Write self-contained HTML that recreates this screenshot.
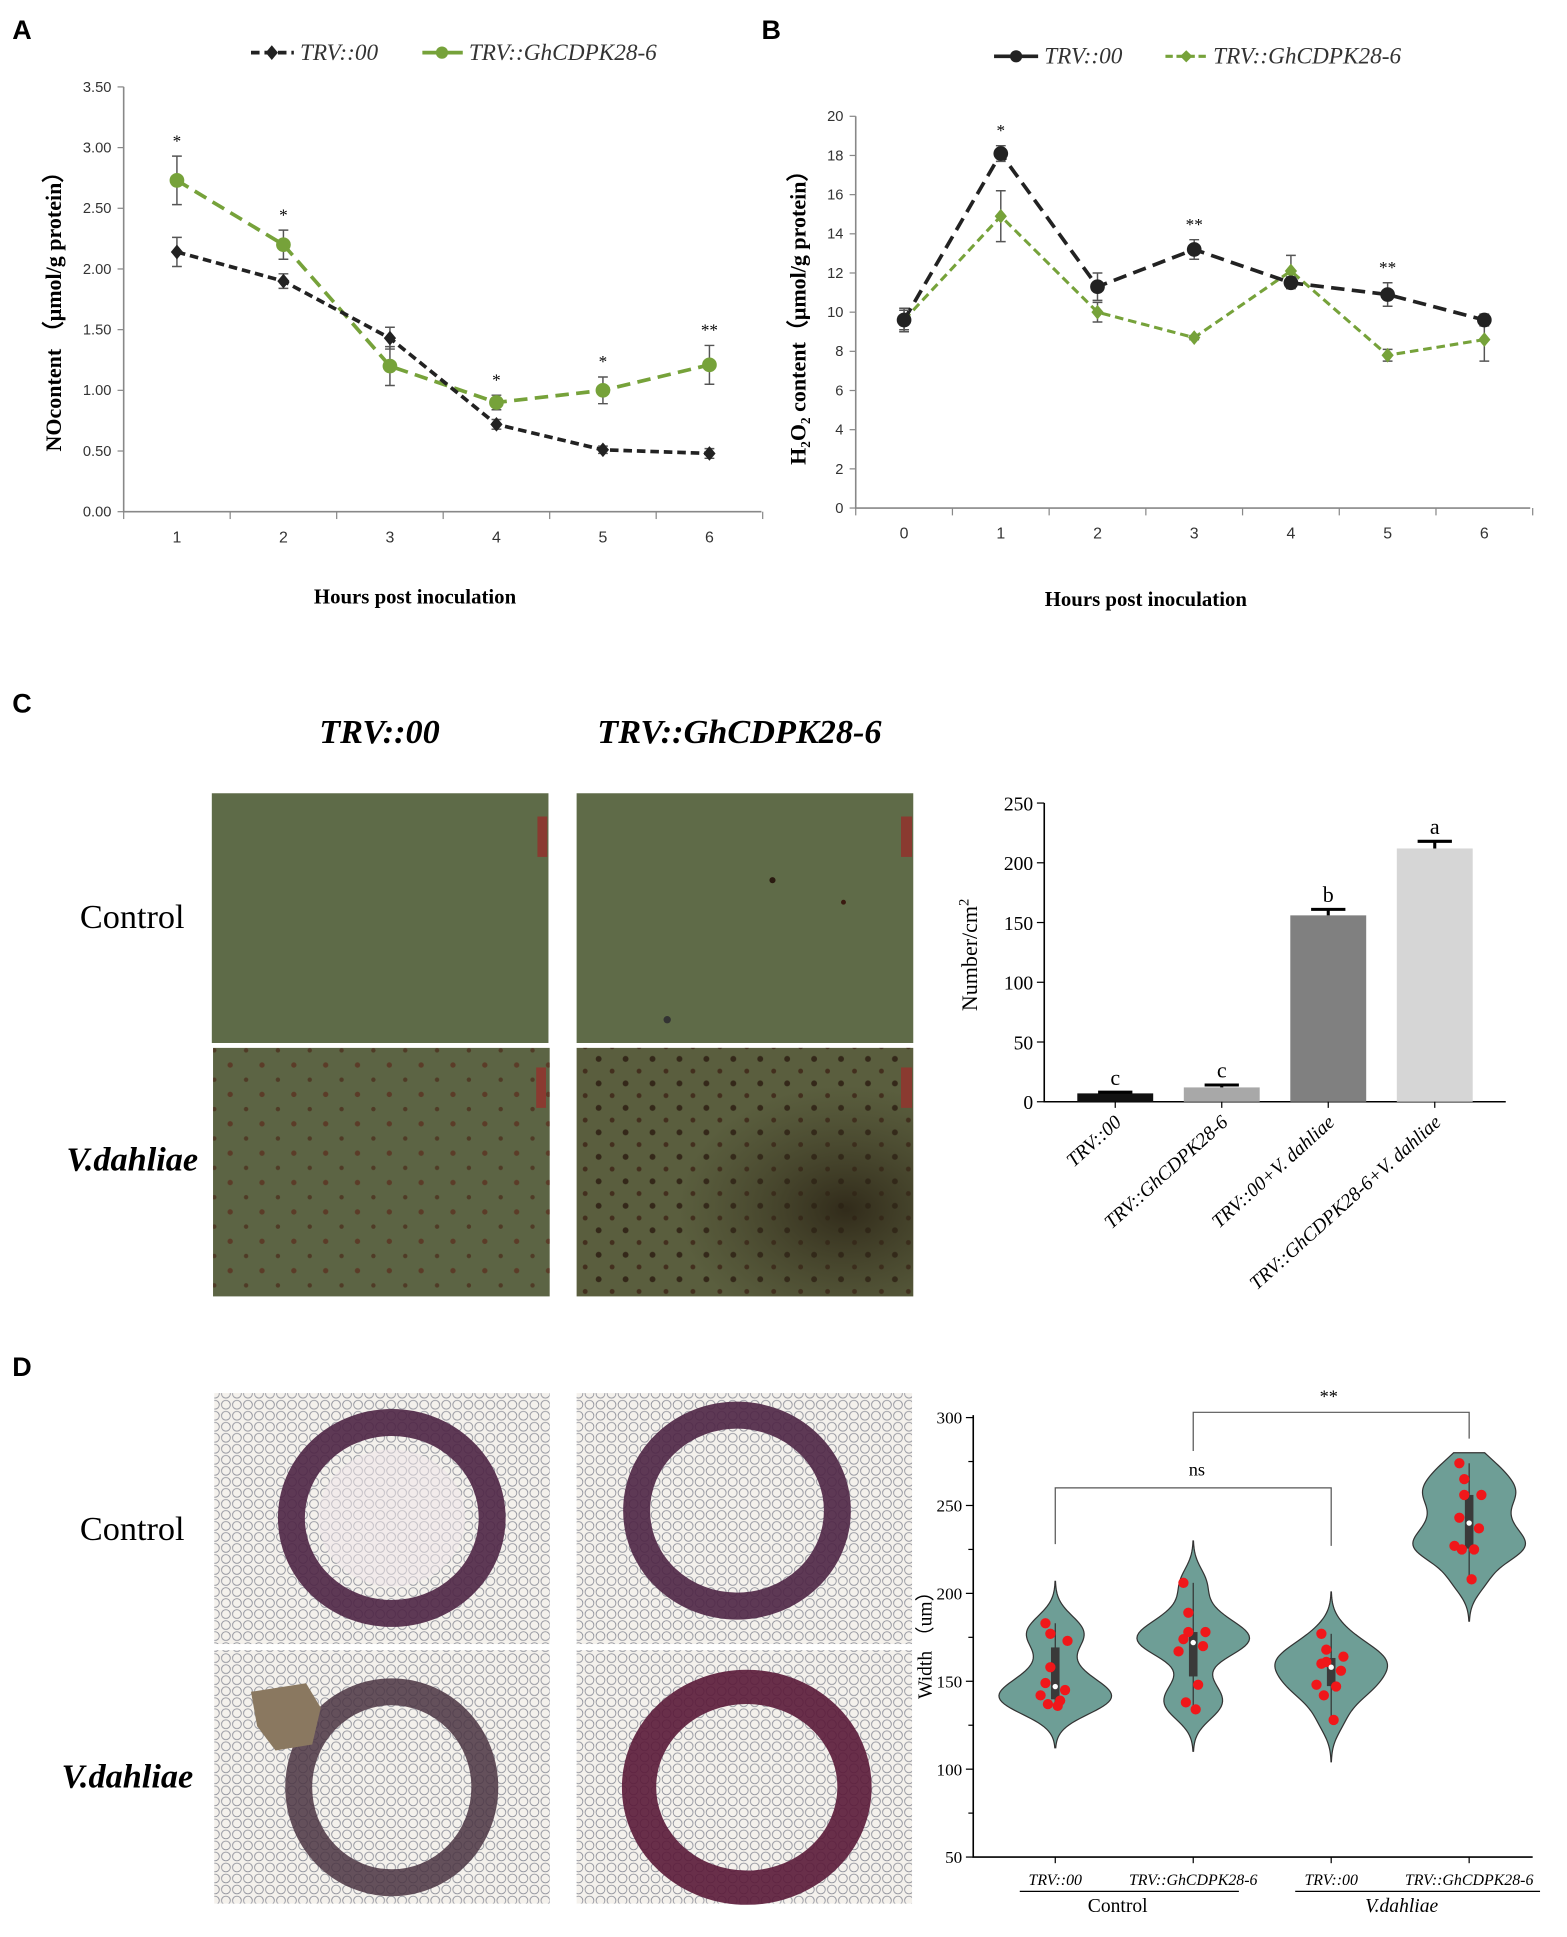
<!DOCTYPE html>
<html><head><meta charset="utf-8"><style>
html,body{margin:0;padding:0;background:#fff;}
svg{display:block;}
text{font-family:"Liberation Serif",serif;}
.sans{font-family:"Liberation Sans",sans-serif;}
</style></head><body>
<svg id="fig" width="1567" height="1937" viewBox="0 0 1280 1582.3" xmlns="http://www.w3.org/2000/svg">
<defs>
<pattern id="cells" width="9" height="9" patternUnits="userSpaceOnUse">
<rect width="9" height="9" fill="#f4f1ec"/>
<circle cx="4.5" cy="4.5" r="3.6" fill="none" stroke="#8e909a" stroke-width="0.7"/>
</pattern>
<pattern id="spots" width="26" height="24" patternUnits="userSpaceOnUse">
<circle cx="6" cy="6" r="2.2" fill="#5a2e1e" opacity="0.75"/>
<circle cx="19" cy="18" r="1.8" fill="#4a2a1a" opacity="0.7"/>
</pattern>
<pattern id="spots2" width="22" height="20" patternUnits="userSpaceOnUse">
<circle cx="5" cy="5" r="2.4" fill="#2a1a10" opacity="0.8"/>
<circle cx="16" cy="15" r="2" fill="#3a1e12" opacity="0.75"/>
</pattern>
<radialGradient id="dark" cx="0.8" cy="0.65" r="0.5"><stop offset="0" stop-color="#2a2214" stop-opacity="0.85"/><stop offset="1" stop-color="#3a3420" stop-opacity="0"/></radialGradient>
</defs>

<text class="sans" x="10" y="32" font-size="22" font-weight="bold">A</text>
<text class="sans" x="622" y="32" font-size="22" font-weight="bold">B</text>
<text class="sans" x="10" y="582" font-size="22" font-weight="bold">C</text>
<text class="sans" x="10" y="1124" font-size="22" font-weight="bold">D</text>

<text x="310" y="607" font-size="28" font-style="italic" font-weight="bold" text-anchor="middle">TRV::00</text>
<text x="604" y="607" font-size="28" font-style="italic" font-weight="bold" text-anchor="middle">TRV::GhCDPK28-6</text>
<text x="108" y="758" font-size="28" text-anchor="middle">Control</text>
<text x="108" y="956" font-size="28" font-style="italic" font-weight="bold" text-anchor="middle">V.dahliae</text>
<g>
<rect x="173" y="648" width="275" height="204" fill="#5e6b48"/>
<rect x="439" y="667" width="8" height="33" fill="#8a3a30"/>
</g>
<g>
<rect x="471" y="648" width="275" height="204" fill="#5f6b48"/>
<rect x="736" y="667" width="9" height="33" fill="#8a3a30"/>
<circle cx="631" cy="719" r="2.5" fill="#2a1a10"/><circle cx="689" cy="737" r="2" fill="#3a1a10"/><circle cx="545" cy="833" r="3" fill="#333"/>
</g>
<g>
<rect x="174" y="856" width="275" height="203" fill="#5c6444"/>
<rect x="174" y="856" width="275" height="203" fill="url(#spots)"/>
<rect x="438" y="872" width="8" height="33" fill="#8a3a30"/>
</g>
<g>
<rect x="471" y="856" width="275" height="203" fill="#5a5e3e"/>
<rect x="471" y="856" width="275" height="203" fill="url(#spots2)"/>
<rect x="471" y="856" width="275" height="203" fill="url(#dark)"/>
<rect x="736" y="872" width="9" height="33" fill="#8a3a30"/>
</g>

<text x="108" y="1258" font-size="28" text-anchor="middle">Control</text>
<text x="104" y="1460" font-size="28" font-style="italic" font-weight="bold" text-anchor="middle">V.dahliae</text>
<g>
<rect x="175" y="1138" width="274" height="205" fill="url(#cells)"/>
<ellipse cx="320" cy="1240" rx="82" ry="78" fill="none" stroke="#4e2545" stroke-width="22" opacity="0.9"/>
<ellipse cx="320" cy="1240" rx="60" ry="56" fill="#f0e6ea" opacity="0.5"/>
</g>
<g>
<rect x="471" y="1138" width="274" height="205" fill="url(#cells)"/>
<ellipse cx="602" cy="1234" rx="82" ry="78" fill="none" stroke="#4e2545" stroke-width="22" opacity="0.9"/>
</g>
<g>
<rect x="175" y="1348" width="274" height="207" fill="url(#cells)"/>
<ellipse cx="320" cy="1460" rx="76" ry="78" fill="none" stroke="#4a3442" stroke-width="22" opacity="0.85"/>
<path d="M205 1382 L250 1375 L262 1395 L255 1425 L225 1430 L210 1410 Z" fill="#8a7860"/>
</g>
<g>
<rect x="471" y="1348" width="274" height="207" fill="url(#cells)"/>
<ellipse cx="610" cy="1460" rx="88" ry="82" fill="none" stroke="#5a1a38" stroke-width="28" opacity="0.9"/>
</g>

<g id="gA"></g>
<g id="gB"></g>
<g id="gC"></g>
<g id="gD"></g>
</svg>
<script>
const NS='http://www.w3.org/2000/svg';
function mk(tag,attrs,parent){const e=document.createElementNS(NS,tag);for(const k in attrs)e.setAttribute(k,attrs[k]);parent.appendChild(e);return e;}

// ---------- Panel A data ----------
const aCats=[1,2,3,4,5,6];
const aBlack=[2.14,1.90,1.43,0.72,0.51,0.48];
const aBlackErr=[0.12,0.06,0.09,0.04,0.03,0.04];
const aGreen=[2.73,2.20,1.20,0.90,1.00,1.21];
const aGreenErr=[0.20,0.12,0.16,0.06,0.11,0.16];
const aStars=['*','*','','*','*','**'];
const aTicks=[0,0.5,1,1.5,2,2.5,3,3.5];
// ---------- Panel B data ----------
const bCats=[0,1,2,3,4,5,6];
const bBlack=[9.6,18.1,11.3,13.2,11.5,10.9,9.6];
const bBlackErr=[0.5,0.4,0.7,0.5,0.3,0.6,0.3];
const bGreen=[9.6,14.9,10.0,8.7,12.1,7.8,8.6];
const bGreenErr=[0.6,1.3,0.5,0.1,0.8,0.3,1.1];
const bStars=['','*','','**','','**',''];
const bTicks=[0,2,4,6,8,10,12,14,16,18,20];
// ---------- Panel C data ----------
const cCats=['TRV::00','TRV::GhCDPK28-6','TRV::00+V. dahliae','TRV::GhCDPK28-6+V. dahliae'];
const cVals=[7,12,156,212];
const cErrs=[1,2,5,6];
const cLetters=['c','c','b','a'];
const cTicks=[0,50,100,150,200,250];
// ---------- Panel D data ----------
const dCats=['TRV::00','TRV::GhCDPK28-6','TRV::00','TRV::GhCDPK28-6'];
const dV1=[183,177,173,158,149,145,142,139,137,136];
const dV2=[206,189,178,178,174,170,167,148,138,134];
const dV3=[177,168,164,161,160,156,148,147,142,128];
const dV4=[274,265,256,256,243,237,227,225,225,208];
const dTicks=[50,100,150,200,250,300];

function lineChart(g,opt){
  const {x0,x1,yTop,yBot,ymax,cats,step,ticks,fmt,black,bErr,green,gErr,stars,blackMarker,greenMarker}=opt;
  const ys=v=>yBot-(v/ymax)*(yBot-yTop);
  const xs=i=>x0+step*(i+0.5);
  const ax=mk('path',{d:`M${x0} ${yTop} V${yBot} H${x1}`,stroke:'#888',fill:'none','stroke-width':1.3},g);
  
  
  ticks.forEach(t=>{
    const tk=mk('line',{x1:x0-5,x2:x0,y1:ys(t),y2:ys(t),stroke:'#888'},g);
    
    
    const tl=mk('text',{x:x0-10,y:ys(t)+4,'font-size':12,'text-anchor':'end',fill:'#333',class:'sans'},g);
    
    
    tl.textContent=fmt(t);
  });
  for(let i=0;i<=cats.length;i++){
    const tk=mk('line',{x1:x0+step*i,x2:x0+step*i,y1:yBot,y2:yBot+6,stroke:'#888'},g);
    
    
  }
  cats.forEach((c,i)=>{
    const tl=mk('text',{x:xs(i),y:yBot+25,'font-size':13,'text-anchor':'middle',fill:'#333',class:'sans'},g);
    
    
    tl.textContent=c;
  });
  function series(vals,errs,color,marker,name,width,dash){
    const pl=mk('polyline',{points:vals.map((v,i)=>xs(i)+','+ys(v)).join(' '),fill:'none',stroke:color,'stroke-width':width,'stroke-dasharray':dash},g);
    
    
    vals.forEach((v,i)=>{
      const x=xs(i),y1=ys(v+errs[i]),y2=ys(v-errs[i]);
      const eb=mk('path',{d:`M${x} ${y1}V${y2}M${x-4} ${y1}H${x+4}M${x-4} ${y2}H${x+4}`,stroke:'#555','stroke-width':1.2,fill:'none'},g);
      
      
      let m;
      if(marker==='diamond') m=mk('path',{d:`M${x} ${ys(v)-6}L${x+5} ${ys(v)}L${x} ${ys(v)+6}L${x-5} ${ys(v)}Z`,fill:color},g);
      else m=mk('circle',{cx:x,cy:ys(v),r:marker==='bigcircle'?6:5,fill:color},g);
      
      
    });
  }
  series(green,gErr,'#76a23a',greenMarker,'green-series',opt.greenW?opt.greenW:3,opt.greenDash);
  series(black,bErr,'#222',blackMarker,'black-series',3,opt.blackDash);
  stars.forEach((s,i)=>{
    if(!s)return;
    const top=Math.max(black[i]+bErr[i],green[i]+gErr[i]);
    const st=mk('text',{x:xs(i),y:ys(top)-8,'font-size':14,'text-anchor':'middle'},g);
    
    
    st.textContent=s;
  });
}

const gA=document.getElementById('gA');
lineChart(gA,{x0:101,x1:622,yTop:71,yBot:418,ymax:3.5,cats:aCats,step:87,ticks:aTicks,fmt:t=>t.toFixed(2),
  black:aBlack,bErr:aBlackErr,green:aGreen,gErr:aGreenErr,stars:aStars,blackMarker:'diamond',greenMarker:'bigcircle',blackDash:'7 4',greenDash:'11 6'});
{
const l1=mk('path',{d:'M205 43H240',stroke:'#222','stroke-width':3,'stroke-dasharray':'7 4'},gA);


const d1=mk('path',{d:'M222 37L227 43L222 49L217 43Z',fill:'#222'},gA);


const t1=mk('text',{x:245,y:49,'font-size':19,'font-style':'italic',fill:'#333'},gA);


t1.textContent='TRV::00';
const l2=mk('path',{d:'M345 43H378',stroke:'#76a23a','stroke-width':3},gA);


const c2=mk('circle',{cx:361,cy:43,r:5,fill:'#76a23a'},gA);


const t2=mk('text',{x:383,y:49,'font-size':19,'font-style':'italic',fill:'#333'},gA);


t2.textContent='TRV::GhCDPK28-6';
const yl=mk('text',{x:0,y:0,'font-size':18,'font-weight':'bold','text-anchor':'middle',transform:'translate(50,250) rotate(-90)'},gA);


yl.textContent='NOcontent （μmol/g protein）';
const xl=mk('text',{x:339,y:493,'font-size':17,'font-weight':'bold','text-anchor':'middle'},gA);


xl.textContent='Hours post inoculation';
}

const gB=document.getElementById('gB');
lineChart(gB,{x0:699,x1:1250,yTop:95,yBot:415,ymax:20,cats:bCats,step:79,ticks:bTicks,fmt:t=>String(t),
  black:bBlack,bErr:bBlackErr,green:bGreen,gErr:bGreenErr,stars:bStars,blackMarker:'bigcircle',greenMarker:'diamond',blackDash:'11 6',greenDash:'7 4',greenW:2.5});
{
const l1=mk('path',{d:'M812 46H848',stroke:'#222','stroke-width':3},gB);


const c1=mk('circle',{cx:830,cy:46,r:5,fill:'#222'},gB);


const t1=mk('text',{x:853,y:52,'font-size':19,'font-style':'italic',fill:'#333'},gB);


t1.textContent='TRV::00';
const l2=mk('path',{d:'M952 46H986',stroke:'#76a23a','stroke-width':2.5,'stroke-dasharray':'6 3'},gB);


const d2=mk('path',{d:'M969 41L974 46L969 51L964 46Z',fill:'#76a23a'},gB);


const t2=mk('text',{x:991,y:52,'font-size':19,'font-style':'italic',fill:'#333'},gB);


t2.textContent='TRV::GhCDPK28-6';
const yl=mk('text',{x:0,y:0,'font-size':18,'font-weight':'bold','text-anchor':'middle',transform:'translate(658,255) rotate(-90)'},gB);


yl.textContent='H₂O₂ content（μmol/g protein）';
const xl=mk('text',{x:936,y:495,'font-size':17,'font-weight':'bold','text-anchor':'middle'},gB);


xl.textContent='Hours post inoculation';
}

{
const g=document.getElementById('gC');
const x0=853,x1=1230,yTop=656,yBot=900,ymax=250,step=87,bw=62;
const ys=v=>yBot-v/ymax*(yBot-yTop);
const xs=i=>x0+58+step*i;
const colors=['#111','#a8a8a8','#808080','#d6d6d6'];
const ax=mk('path',{d:`M${x0} ${yTop}V${yBot}H${x1}`,stroke:'#000','stroke-width':1.3,fill:'none'},g);


cTicks.forEach(t=>{
  const tk=mk('line',{x1:x0-6,x2:x0,y1:ys(t),y2:ys(t),stroke:'#000'},g);
  
  
  const tl=mk('text',{x:x0-9,y:ys(t)+6,'font-size':16,'text-anchor':'end'},g);
  
  
  tl.textContent=t;
});
cVals.forEach((v,i)=>{
  const x=xs(i);
  const r=mk('rect',{x:x-bw/2,y:ys(v),width:bw,height:yBot-ys(v),fill:colors[i]},g);
  
  
  const e=mk('path',{d:`M${x} ${ys(v)}V${ys(v+cErrs[i])}M${x-14} ${ys(v+cErrs[i])}H${x+14}`,stroke:'#000','stroke-width':2.5,fill:'none'},g);
  
  
  const l=mk('text',{x:x,y:ys(v+cErrs[i])-6,'font-size':18,'text-anchor':'middle'},g);
  
  
  l.textContent=cLetters[i];
  const xt=mk('line',{x1:x,x2:x,y1:yBot,y2:yBot+5,stroke:'#000'},g);
  
  
  const cl=mk('text',{x:0,y:0,'font-size':16,'font-style':'italic','text-anchor':'end',transform:`translate(${x+6},${yBot+18}) rotate(-42)`},g);
  
  
  cl.textContent=cCats[i];
});
const yl=mk('text',{x:0,y:0,'font-size':18,'text-anchor':'middle',transform:'translate(798,780) rotate(-90)'},g);


yl.innerHTML='Number/cm<tspan dy="-7" font-size="12">2</tspan>';
}

{
const g=document.getElementById('gD');
const groups=[dV1,dV2,dV3,dV4];
const x0=795,x1=1252,yTop=1158,yBot=1517,ymin=50,ymax=300,halfW=46;
const ys=v=>yBot-(v-ymin)/(ymax-ymin)*(yBot-yTop);
const xs=i=>862+112.7*i;
const ax=mk('path',{d:`M${x0} ${yTop-2}V${yBot}H${x1}`,stroke:'#000','stroke-width':1.3,fill:'none'},g);


for(let t=50;t<=300;t+=25){
  const major=dTicks.includes(t);
  const tk=mk('line',{x1:x0-(major?6:4),x2:x0,y1:ys(t),y2:ys(t),stroke:'#000'},g);
  
  
  if(major){
    const tl=mk('text',{x:x0-9,y:ys(t)+5,'font-size':14,'text-anchor':'end'},g);
    
    
    tl.textContent=t;
  }
}
const q=(a,p)=>{const s=[...a].sort((x,y)=>x-y);const k=(s.length-1)*p,f=Math.floor(k);return s[f]+(s[Math.min(f+1,s.length-1)]-s[f])*(k-f);};
groups.forEach((vals,i)=>{
  const cx=xs(i),bw=8.5;
  const lo=Math.min(...vals)-2.8*bw, hi=Math.min(Math.max(...vals)+2.8*bw,280);
  const dens=y=>vals.reduce((s,v)=>s+Math.exp(-0.5*((y-v)/bw)**2),0);
  const pts=[];let mx=0;
  for(let y=lo;y<=hi+0.01;y+=(hi-lo)/80){const d=dens(y);pts.push([y,d]);if(d>mx)mx=d;}
  let dpath='M'+pts.map(p=>`${cx+p[1]/mx*halfW},${ys(p[0])}`).join('L');
  dpath+='L'+pts.slice().reverse().map(p=>`${cx-p[1]/mx*halfW},${ys(p[0])}`).join('L')+'Z';
  const vp=mk('path',{d:dpath,fill:'#6e9e96',stroke:'#333','stroke-width':1},g);
  
  
  const wl=mk('line',{x1:cx,x2:cx,y1:ys(Math.min(...vals)),y2:ys(Math.max(...vals)),stroke:'#333','stroke-width':1},g);
  
  
  const bx=mk('rect',{x:cx-3.5,y:ys(q(vals,0.75)),width:7,height:ys(q(vals,0.25))-ys(q(vals,0.75)),fill:'#3a3a3a'},g);
  
  
  const offs=[-8,-4,10,-4,-8,8,-12,4,-6,2];
  vals.forEach((v,j)=>{
    const c=mk('circle',{cx:cx+offs[j%offs.length],cy:ys(v),r:4.2,fill:'#f0171a'},g);
    
    
  });
  const md=mk('circle',{cx:cx,cy:ys(q(vals,0.5)),r:2.2,fill:'#fff'},g);
  
  
  const xt=mk('line',{x1:cx,x2:cx,y1:yBot,y2:yBot+5,stroke:'#000'},g);
  
  
  const cl=mk('text',{x:cx,y:yBot+23,'font-size':13,'font-style':'italic','text-anchor':'middle'},g);
  
  
  cl.textContent=dCats[i];
});
const u1=mk('line',{x1:833,x2:1012,y1:yBot+28,y2:yBot+28,stroke:'#000'},g);


const u2=mk('line',{x1:1058,x2:1258,y1:yBot+28,y2:yBot+28,stroke:'#000'},g);


const g1=mk('text',{x:913,y:yBot+45,'font-size':16,'text-anchor':'middle'},g);


g1.textContent='Control';
const g2=mk('text',{x:1145,y:yBot+45,'font-size':16,'font-style':'italic','text-anchor':'middle'},g);


g2.textContent='V.dahliae';
const b1=mk('path',{d:`M${xs(0)} ${ys(228)}V${ys(260)}H${xs(2)}V${ys(227)}`,stroke:'#555',fill:'none'},g);


const t1=mk('text',{x:(xs(0)+xs(2))/2+3,y:ys(260)-10,'font-size':15,'text-anchor':'middle'},g);


t1.textContent='ns';
const b2=mk('path',{d:`M${xs(1)} ${ys(281)}V${ys(303)}H${xs(3)}V${ys(288)}`,stroke:'#555',fill:'none'},g);


const t2=mk('text',{x:(xs(1)+xs(3))/2-2,y:ys(303)-8,'font-size':15,'text-anchor':'middle'},g);


t2.textContent='**';
const yl=mk('text',{x:0,y:0,'font-size':16,'text-anchor':'middle',transform:'translate(761,1340) rotate(-90)'},g);


yl.textContent='Width （um）';
}
</script>
</body></html>
